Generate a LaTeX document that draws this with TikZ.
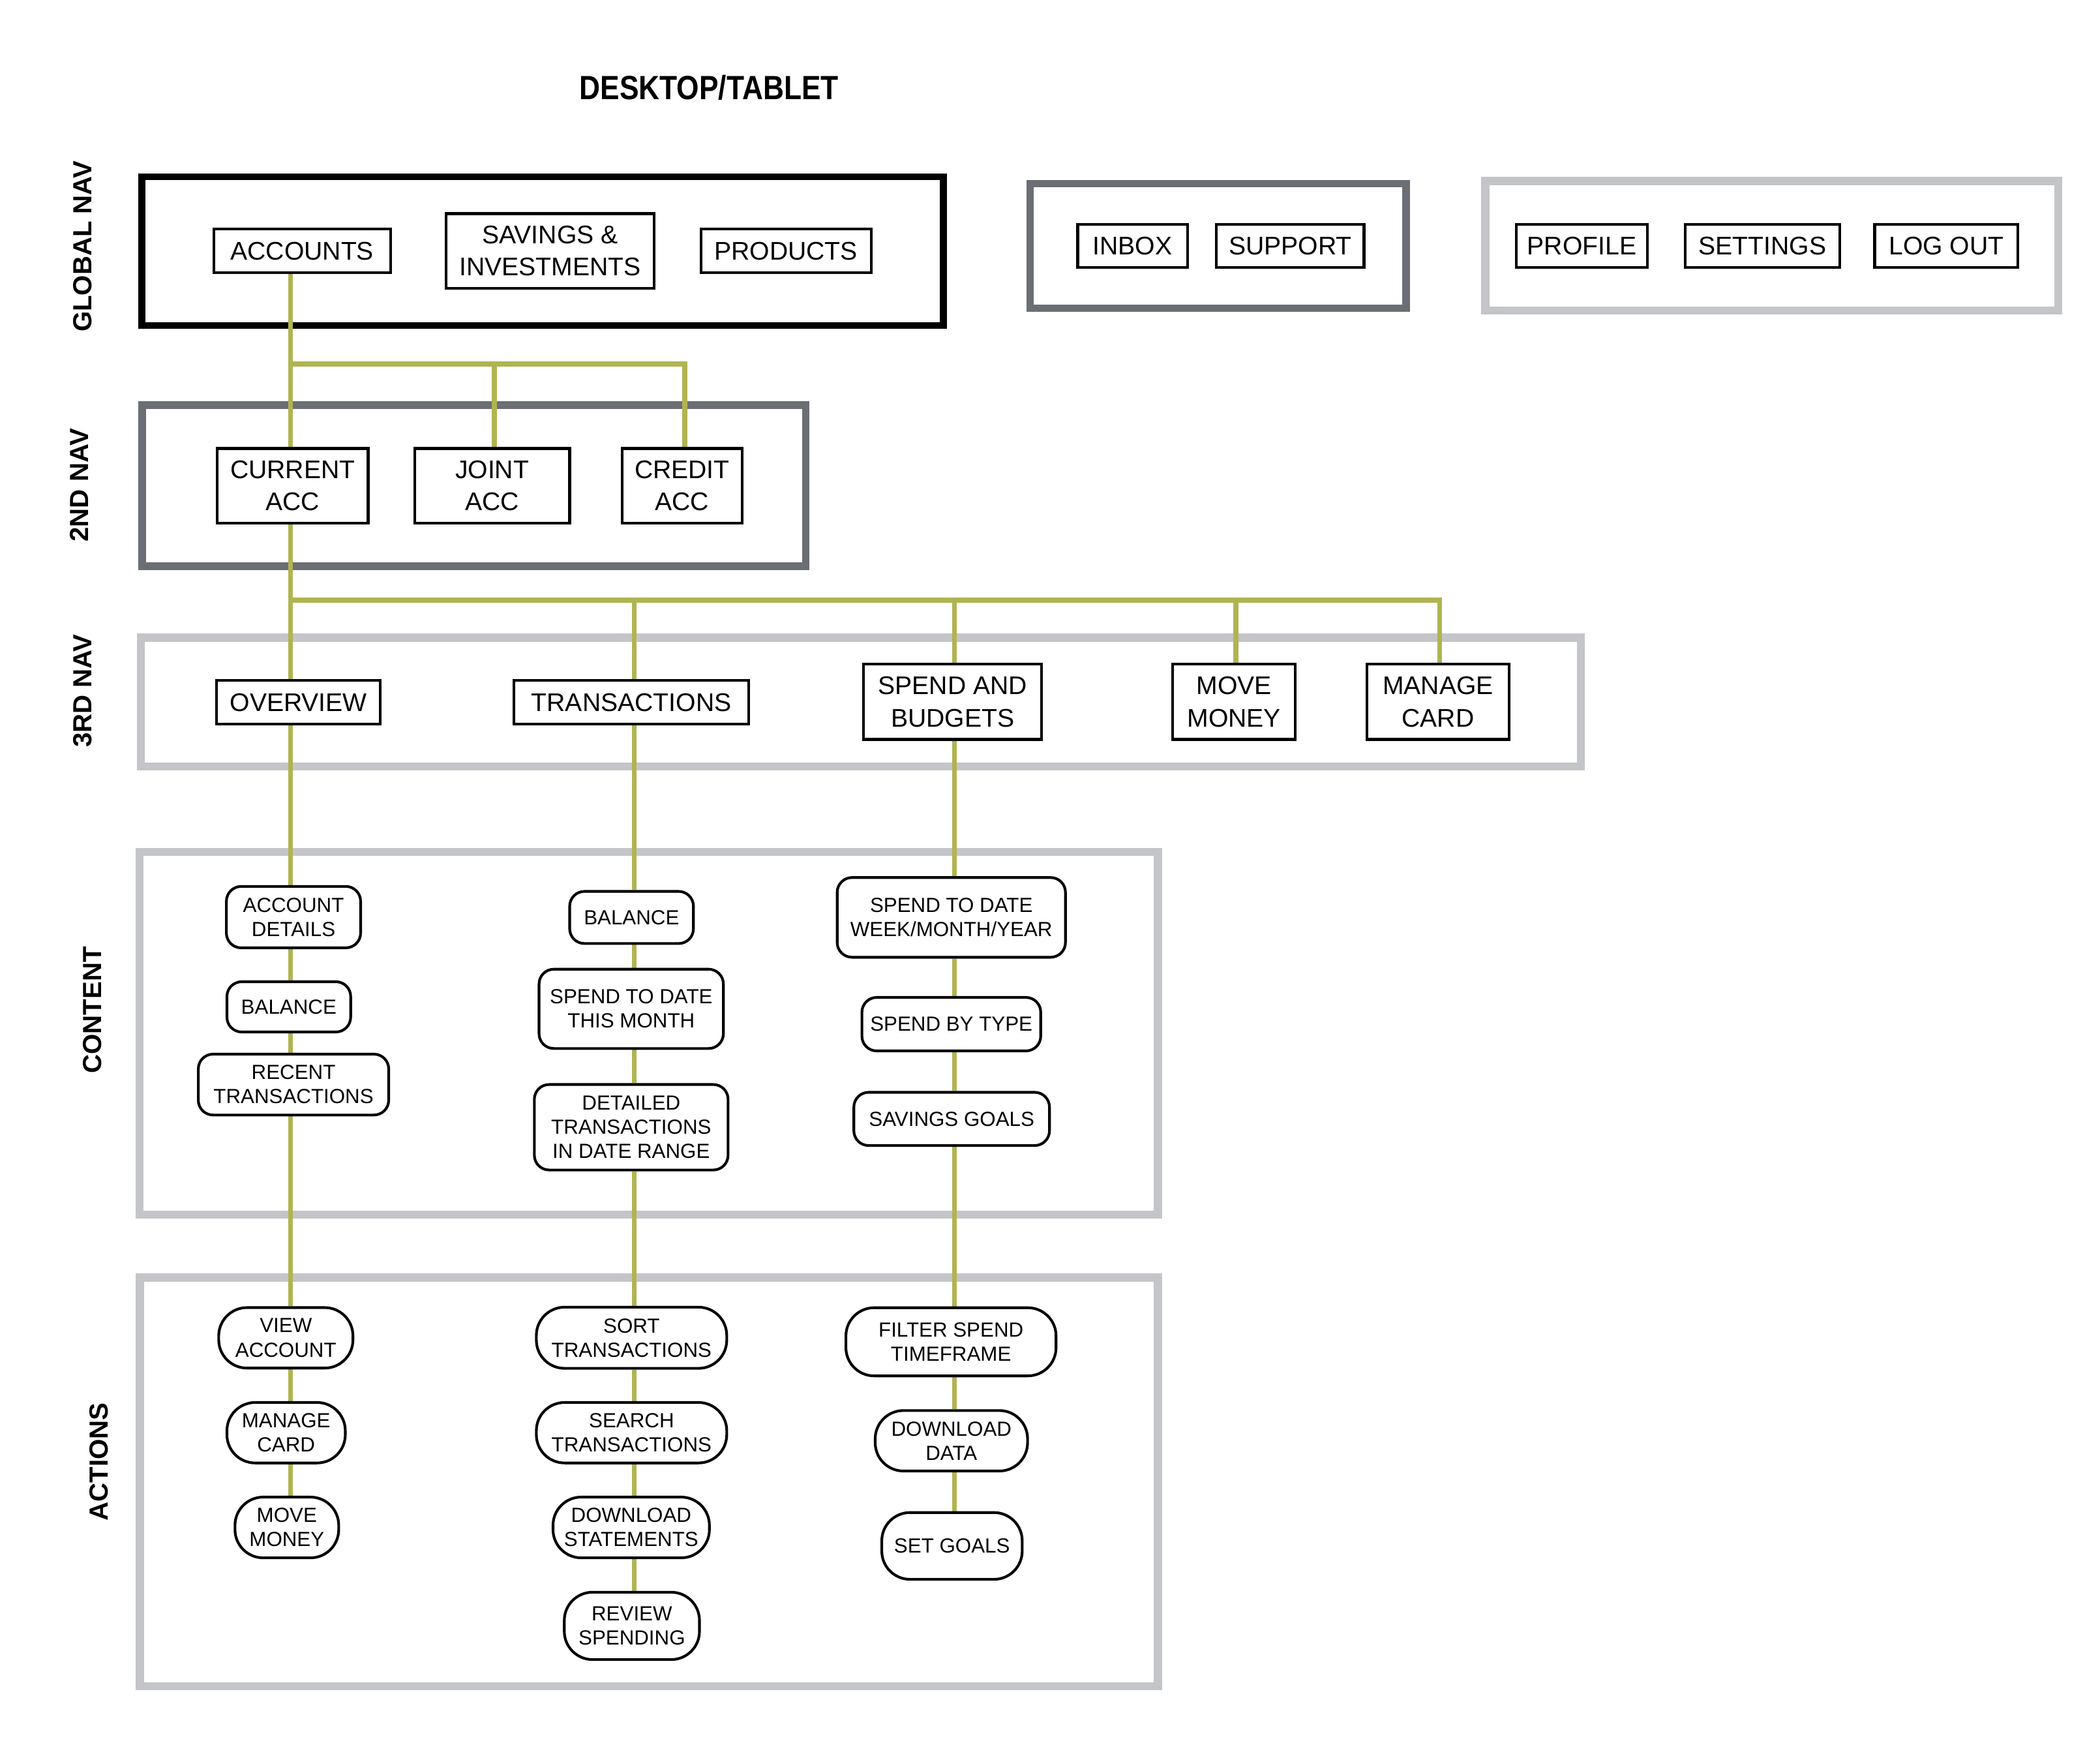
\documentclass[tikz,border=0pt]{standalone}
\usepackage{fontspec}
\setmainfont{Liberation Sans}
\definecolor{olive}{HTML}{B0B450}
\definecolor{darkgr}{HTML}{6B6E75}
\definecolor{lightgr}{HTML}{C4C5C8}
\pgfdeclarelayer{frames}
\pgfdeclarelayer{lines}
\pgfsetlayers{frames,lines,main}
\begin{document}
\begin{tikzpicture}[x=1pt,y=-1pt,
  conn/.style={olive,line width=3.6pt},
  navbox/.style={draw=black,line width=2pt,fill=white,inner sep=0pt,align=center,
    font=\fontsize{19}{24}\selectfont},
  cbox/.style={draw=black,line width=2pt,fill=white,inner sep=0pt,align=center,
    rounded corners=11pt,font=\fontsize{15.2}{18}\selectfont},
  abox/.style={draw=black,line width=2pt,fill=white,inner sep=0pt,align=center,
    rounded corners=21pt,font=\fontsize{15.2}{18}\selectfont},
  side/.style={rotate=90,font=\bfseries\fontsize{19.5}{22}\selectfont},
  title/.style={font=\bfseries\fontsize{25}{28}\selectfont}]
\begin{pgfonlayer}{frames}
\useasboundingbox[fill=white] (0,0) rectangle (1563,1297);
\draw[line width=5pt,black] (105.6,131.5) rectangle (702.2,242.2);
\draw[line width=5.5pt,darkgr] (766.55,136.65) rectangle (1046.45,229.25);
\draw[line width=6pt,lightgr] (1105.5,134.7) rectangle (1531.8,231.2);
\draw[line width=5.5pt,darkgr] (105.85,301.45) rectangle (599.75,421.35);
\draw[line width=6pt,lightgr] (104.8,474.5) rectangle (1176.7,570.4);
\draw[line width=6pt,lightgr] (104,634) rectangle (861.8,903.9);
\draw[line width=6pt,lightgr] (104.1,950.6) rectangle (861.8,1254.7);
\end{pgfonlayer}

% title and side labels
\node[title,anchor=base] (ttl) at (527.7,73.8) {\scalebox{0.86}[1]{DESKTOP/TABLET}};
\node[side] (lglob) at (61.5,183.3) {GLOBAL NAV};
\node[side] (l2nd) at (59.2,361) {2ND NAV};
\node[side] (l3rd) at (61.4,514) {3RD NAV};
\node[side] (lcont) at (68.8,751.5) {CONTENT};
\node[side] (lact) at (73.6,1087.8) {ACTIONS};

% column and bar coordinates
\coordinate (c1) at (216.3,0);
\coordinate (c2) at (472.1,0);
\coordinate (c3) at (710.3,0);
\coordinate (b1) at (216.3,270.9);
\coordinate (b2) at (216.3,446.5);
\coordinate (dj) at (368,0);
\coordinate (dc) at (509.6,0);
\coordinate (dm) at (919.8,0);
\coordinate (dk) at (1071.6,0);

% global nav
\node[navbox,minimum width=131.7pt,minimum height=32.6pt] (accounts) at (224.85,186.7) {ACCOUNTS};
\node[navbox,minimum width=154.5pt,minimum height=55.4pt] (savings) at (409.45,186.7) {SAVINGS \&\\INVESTMENTS};
\node[navbox,minimum width=126.7pt,minimum height=32.6pt] (products) at (585,186.7) {PRODUCTS};
\node[navbox,minimum width=81.6pt,minimum height=32.4pt] (inbox) at (842.9,183) {INBOX};
\node[navbox,minimum width=109.8pt,minimum height=32.4pt] (support) at (960.3,183) {SUPPORT};
\node[navbox,minimum width=97.6pt,minimum height=32.4pt] (profile) at (1177.3,183) {PROFILE};
\node[navbox,minimum width=115.1pt,minimum height=32.4pt] (settings) at (1311.75,183) {SETTINGS};
\node[navbox,minimum width=106.6pt,minimum height=32.4pt] (logout) at (1448.6,183) {LOG OUT};

% 2nd nav
\node[navbox,minimum width=112.3pt,minimum height=55.4pt] (current) at (217.85,361.4) {CURRENT\\ACC};
\node[navbox,minimum width=115.5pt,minimum height=55.4pt] (joint) at (366.25,361.4) {JOINT\\ACC};
\node[navbox,minimum width=89pt,minimum height=55.4pt] (credit) at (507.7,361.4) {CREDIT\\ACC};

% 3rd nav
\node[navbox,minimum width=122pt,minimum height=32.8pt] (overview) at (222.2,522.6) {OVERVIEW};
\node[navbox,minimum width=174.6pt,minimum height=32.8pt] (trans) at (469.9,522.6) {TRANSACTIONS};
\node[navbox,minimum width=132.5pt,minimum height=55.9pt] (spendbud) at (709,522.25) {SPEND AND\\BUDGETS};
\node[navbox,minimum width=91.2pt,minimum height=55.9pt] (movemon) at (918.5,522.25) {MOVE\\MONEY};
\node[navbox,minimum width=106.1pt,minimum height=55.9pt] (managec) at (1070.25,522.25) {MANAGE\\CARD};

% content
\node[cbox,minimum width=99.9pt,minimum height=45.7pt] (accdet) at (218.45,682.45) {ACCOUNT\\DETAILS};
\node[cbox,minimum width=92.1pt,minimum height=37.4pt] (bal1) at (214.95,749.2) {BALANCE};
\node[cbox,minimum width=141.7pt,minimum height=45.3pt] (recent) at (218.45,807.05) {RECENT\\TRANSACTIONS};
\node[cbox,minimum width=92.1pt,minimum height=38.8pt] (bal2) at (470.05,682.7) {BALANCE};
\node[cbox,minimum width=137.2pt,minimum height=59pt] (stdm) at (469.8,750.7) {SPEND TO DATE\\THIS MONTH};
\node[cbox,minimum width=144.2pt,minimum height=63.6pt] (detail) at (469.8,838.8) {DETAILED\\TRANSACTIONS\\IN DATE RANGE};
\node[cbox,minimum width=169.9pt,minimum height=59.3pt] (stdw) at (708.05,682.65) {SPEND TO DATE\\WEEK/MONTH/YEAR};
\node[cbox,minimum width=133.1pt,minimum height=39.8pt] (sbt) at (708.05,762.1) {SPEND BY TYPE};
\node[cbox,minimum width=145.6pt,minimum height=39.6pt] (sgoals) at (708.3,832.6) {SAVINGS GOALS};

% actions
\node[abox,minimum width=99.9pt,minimum height=45pt] (viewacc) at (212.75,995.5) {VIEW\\ACCOUNT};
\node[abox,minimum width=88.1pt,minimum height=45pt] (mcard) at (212.95,1066.1) {MANAGE\\CARD};
\node[abox,minimum width=77.2pt,minimum height=45.2pt] (mmoney) at (213.5,1136.6) {MOVE\\MONEY};
\node[abox,minimum width=141.7pt,minimum height=45.5pt] (sortt) at (470.05,995.45) {SORT\\TRANSACTIONS};
\node[abox,minimum width=141.7pt,minimum height=45pt] (searcht) at (470.05,1066.1) {SEARCH\\TRANSACTIONS};
\node[abox,minimum width=116.4pt,minimum height=45.2pt] (dlstat) at (469.8,1136.6) {DOWNLOAD\\STATEMENTS};
\node[abox,minimum width=100.6pt,minimum height=50.1pt] (review) at (470.3,1209.85) {REVIEW\\SPENDING};
\node[abox,minimum width=156.4pt,minimum height=50.7pt] (filter) at (707.8,998.45) {FILTER SPEND\\TIMEFRAME};
\node[abox,minimum width=113.4pt,minimum height=45pt] (dldata) at (708.1,1072.1) {DOWNLOAD\\DATA};
\node[abox,minimum width=104.5pt,minimum height=49.7pt] (setgoals) at (708.55,1150.35) {SET GOALS};

% connectors (behind nodes, above frames)
\begin{pgfonlayer}{lines}
\draw[conn] (accounts.south -| c1) -- (current.north -| c1);
\draw[conn] (b1) -| (joint.north -| dj);
\draw[conn] (b1) -| (credit.north -| dc);
\draw[conn] (current.south -| c1) -- (overview.north -| c1);
\draw[conn] (b2) -| (trans.north -| c2);
\draw[conn] (b2) -| (spendbud.north -| c3);
\draw[conn] (b2) -| (movemon.north -| dm);
\draw[conn] (b2) -| (managec.north -| dk);
% column 1
\draw[conn] (overview.south -| c1) -- (accdet.north -| c1);
\draw[conn] (accdet.south -| c1) -- (bal1.north -| c1);
\draw[conn] (bal1.south -| c1) -- (recent.north -| c1);
\draw[conn] (recent.south -| c1) -- (viewacc.north -| c1);
\draw[conn] (viewacc.south -| c1) -- (mcard.north -| c1);
\draw[conn] (mcard.south -| c1) -- (mmoney.north -| c1);
% column 2
\draw[conn] (trans.south -| c2) -- (bal2.north -| c2);
\draw[conn] (bal2.south -| c2) -- (stdm.north -| c2);
\draw[conn] (stdm.south -| c2) -- (detail.north -| c2);
\draw[conn] (detail.south -| c2) -- (sortt.north -| c2);
\draw[conn] (sortt.south -| c2) -- (searcht.north -| c2);
\draw[conn] (searcht.south -| c2) -- (dlstat.north -| c2);
\draw[conn] (dlstat.south -| c2) -- (review.north -| c2);
% column 3
\draw[conn] (spendbud.south -| c3) -- (stdw.north -| c3);
\draw[conn] (stdw.south -| c3) -- (sbt.north -| c3);
\draw[conn] (sbt.south -| c3) -- (sgoals.north -| c3);
\draw[conn] (sgoals.south -| c3) -- (filter.north -| c3);
\draw[conn] (filter.south -| c3) -- (dldata.north -| c3);
\draw[conn] (dldata.south -| c3) -- (setgoals.north -| c3);
\end{pgfonlayer}
\end{tikzpicture}
\end{document}
